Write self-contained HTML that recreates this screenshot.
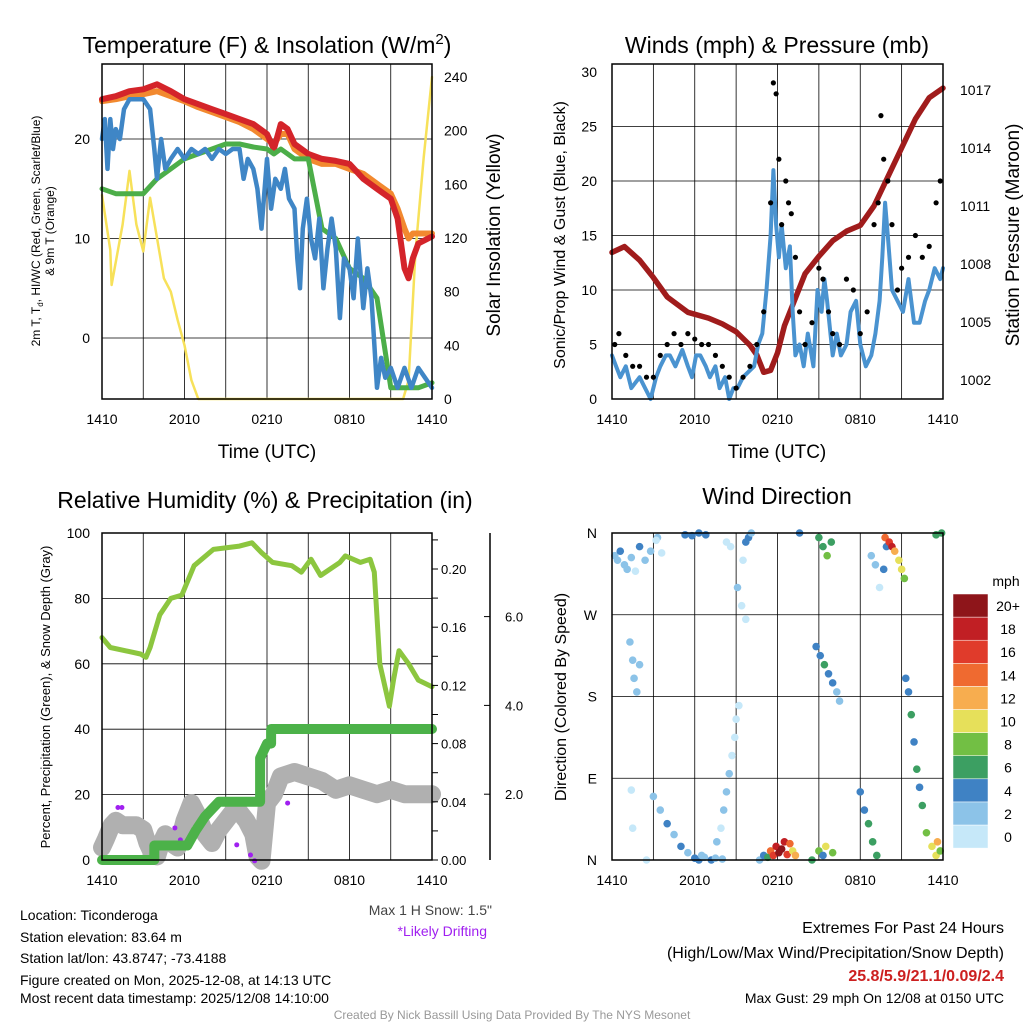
<!DOCTYPE html>
<html><head><meta charset="utf-8"><style>
html,body{margin:0;padding:0;background:#fff;}
svg{display:block;font-family:"Liberation Sans",sans-serif;}
</style></head><body>
<svg id="c" width="1024" height="1024" viewBox="0 0 1024 1024" xmlns="http://www.w3.org/2000/svg">
<rect width="1024" height="1024" fill="#fff"/>
<g id="grid"></g>
<g id="marks"></g>
<g id="axes" fill="#000" stroke="none"></g>
<text x="267" y="53" font-size="23" text-anchor="middle">Temperature (F) &amp; Insolation (W/m<tspan dy="-9" font-size="15">2</tspan><tspan dy="9">)</tspan></text>
<text x="777" y="53" font-size="23" text-anchor="middle">Winds (mph) &amp; Pressure (mb)</text>
<text x="265" y="508" font-size="23" text-anchor="middle">Relative Humidity (%) &amp; Precipitation (in)</text>
<text x="777" y="504" font-size="23" text-anchor="middle">Wind Direction</text>
<text x="267" y="458" font-size="19" text-anchor="middle">Time (UTC)</text>
<text x="777" y="458" font-size="19" text-anchor="middle">Time (UTC)</text>
<text transform="translate(40,231) rotate(-90)" font-size="12" text-anchor="middle">2m T, T<tspan font-size="8" dy="3">d</tspan><tspan dy="-3">, HI/WC (Red, Green, Scarlet/Blue)</tspan></text>
<text transform="translate(54,231) rotate(-90)" font-size="12" text-anchor="middle">&amp; 9m T (Orange)</text>
<text transform="translate(500,235) rotate(-90)" font-size="19" text-anchor="middle">Solar Insolation (Yellow)</text>
<text transform="translate(565,235) rotate(-90)" font-size="16" text-anchor="middle">Sonic/Prop Wind &amp; Gust (Blue, Black)</text>
<text transform="translate(1019,235) rotate(-90)" font-size="19" text-anchor="middle">Station Pressure (Maroon)</text>
<text transform="translate(50,697) rotate(-90)" font-size="13" text-anchor="middle">Percent, Precipitation (Green), &amp; Snow Depth (Gray)</text>
<text transform="translate(566,697) rotate(-90)" font-size="16" text-anchor="middle">Direction (Colored By Speed)</text>
<text x="492" y="915" font-size="14" text-anchor="end" fill="#444">Max 1 H Snow: 1.5"</text>
<text x="487" y="936" font-size="14" text-anchor="end" fill="#a020f0">*Likely Drifting</text>
<g font-size="14">
<text x="20" y="920">Location: Ticonderoga</text>
<text x="20" y="942">Station elevation: 83.64 m</text>
<text x="20" y="963">Station lat/lon: 43.8747; -73.4188</text>
<text x="20" y="985">Figure created on Mon, 2025-12-08, at 14:13 UTC</text>
<text x="20" y="1003">Most recent data timestamp: 2025/12/08 14:10:00</text>
</g>
<g font-size="16" text-anchor="end">
<text x="1004" y="933">Extremes For Past 24 Hours</text>
<text x="1004" y="958">(High/Low/Max Wind/Precipitation/Snow Depth)</text>
<text x="1004" y="981" font-weight="bold" fill="#cc2020">25.8/5.9/21.1/0.09/2.4</text>
<text x="1004" y="1003" font-size="14">Max Gust: 29 mph On 12/08 at 0150 UTC</text>
</g>
<text x="512" y="1019" font-size="12" text-anchor="middle" fill="#999">Created By Nick Bassill Using Data Provided By The NYS Mesonet</text>
<text x="1006" y="586" font-size="14" text-anchor="middle">mph</text>
</svg>
<script>
// ---- Temperature panel data ----
const tHours=[0,1,2,3,4,5,6,7,8,9,10,11,12,12.5,13,13.5,14,15,16,17,18,19,20,21,21.5,22,22.3,22.6,23,24];
const tRed=[24,24.3,24.8,25,25.5,24.8,24,23.5,23,22.5,22,21.5,20.5,19,21.5,21,19.5,18.5,18,17.8,17.5,16,15,14,12,7,6,8,9.5,10.2];
const tOrange=[23.8,24,24.3,24.5,24.8,24.3,23.8,23.2,22.7,22.2,21.7,21,20,19.5,20.5,20.5,19,18,17.5,17.5,17,16.5,15.5,14.5,13,11,10,10.5,10.5,10.5];
const tGreen=[15,14.5,14.5,14.5,16,17,18,18.5,19,19.5,19.5,19.2,19,18.5,19,18.5,18,18,11,10,7,6,4,-5,-5,-5,-5,-5,-5,-4.5];
const bHours=[0,0.2,0.4,0.6,0.8,1,1.3,1.6,2,3,3.5,3.8,4,4.3,4.6,5,5.5,6,6.5,7,7.5,8,8.5,9,9.5,10,10.3,10.6,11,11.3,11.6,12,12.3,12.6,13,13.3,13.6,14,14.2,14.4,14.6,14.9,15.2,15.5,15.8,16.1,16.4,16.7,17,17.3,17.6,18,18.3,18.6,19,19.3,19.6,20,20.3,20.6,21,21.5,22,22.5,23,23.5,24];
const tBlue=[20,22,17,22,19,21,20,23,24,24,23,19,16,20,17,18,19,18,19,18.5,19,18,19,18.5,19,19,16,18,17,15,11,18,13,16,15,17,14,13,8,5,11,14,10,8,12,5,9,12,9,2,8,7,4,10,3,7,4,-5,-2,-4,-3,-5,-3,-5,-3,-4,-5];
const sHours=[0,0.6,0.7,1.5,2,2.5,3,3.5,4,4.5,5,5.5,6,6.5,7,21.9,22.3,22.8,23.4,24];
const solar=[152,111,85,130,170,130,110,150,120,90,80,59,40,14,0,0,14,110,180,240];
const tempTicks=[0,10,20];
const solarTicks=[0,40,80,120,160,200,240];
const timeLabels=["1410","2010","0210","0810","1410"];
// ---- Wind panel data ----
const wHours=[0,0.3,0.6,1,1.4,2,2.4,2.8,3.2,3.5,3.9,4.2,4.6,5.1,5.5,5.8,6.1,6.4,6.8,7.1,7.5,7.8,8.2,8.5,8.8,9.1,9.5,10.3,10.6,10.9,11.2,11.5,11.7,11.9,12.1,12.3,12.6,12.9,13.1,13.3,13.6,13.9,14.2,14.6,14.9,15.2,15.4,15.6,16,16.3,16.6,17.0,17.3,17.7,18,18.4,18.8,19.1,19.4,19.6,19.8,20.0,20.3,20.7,21.1,21.5,21.9,22.3,22.7,23.0,23.4,23.8,24];
const wSpeed=[4,3,2,3,1,2,1,0,2,3,4,4,3,4.5,3,2,4,4,3,2,3,1,2,0,1,1,2,3,5,6,10,15,21,16,13,16,12,14,8,4,5,3,6,3,10,8,11,9,4,6,4,5,8,9,5,3,4,6,9,13,18,15,10,9,8,11,7,7,9,10,12,11,12];
const gHours=[0.2,0.5,1,1.5,2,2.5,3,3.5,4,4.5,5,5.5,6,6.5,7,7.5,8,8.5,9,9.5,10,10.5,11,11.5,11.7,11.9,12.1,12.3,12.6,12.8,13,13.3,13.6,14,14.5,15,15.3,15.7,16,16.5,17,17.5,18,18.5,19,19.3,19.5,19.7,20,20.3,20.7,21,21.5,22,22.5,23,23.5,23.8];
const gust=[5,6,4,3,3,2,2,4,5,6,5,6,5.5,5,5,4,3,2,1,2,3,5,8,18,29,28,22,16,20,18,17,13,8,5,7,12,11,8,6,5,11,10,6,8,16,18,26,22,20,16,10,12,13,15,13,14,18,20];
const pHours=[0,0.9,2,3,4,5.5,7,8,9,10,10.5,11,11.5,12,12.5,13,14,15,16,17,18,19,20,21,22,23,24];
const pres=[1008.6,1008.9,1008.2,1007.3,1006.3,1005.5,1005.2,1004.9,1004.5,1003.8,1003.3,1002.4,1002.5,1003.4,1004.8,1005.7,1007.5,1008.4,1009.2,1009.7,1010,1011,1012.5,1014,1015.5,1016.6,1017.1];
const windTicks=[0,5,10,15,20,25,30];
const presTicks=[1002,1005,1008,1011,1014,1017];
// ---- Humidity panel data ----
const rhHours=[0,0.6,2.8,3.2,3.5,4.2,5,5.8,6.7,8.1,10,10.9,11.6,12.4,13.8,14.5,15.2,15.9,17.3,17.7,18.8,19.5,19.8,20.2,20.9,21.2,21.6,22.3,23,24];
const rh=[68,65,63,62,65,75,80,81,90,95,96,97,94,91,90,88,92,87,91,93,91,92,88,60,47,55,64,60,55,53];
const prHours=[0,3.8,3.8,6.2,6.8,7.5,8,8.5,9,11.5,11.5,12,12.3,12.3,24];
const precip=[0,0,0.01,0.01,0.02,0.03,0.035,0.04,0.04,0.04,0.07,0.08,0.08,0.09,0.09];
const snHours=[0,0.3,0.7,1,1.5,2,2.5,3,3.3,3.6,4,4.3,4.6,5,5.5,6,6.5,7,7.5,8,8.5,9,9.5,10,10.5,11,11.3,11.6,12,12.5,13,14,15,16,17,18,19,20,21,22,23,24];
const snow=[0.8,1.0,1.3,1.4,1.3,1.3,1.3,1.2,0.9,0.7,0.6,0.9,1.1,0.9,0.8,1.4,1.8,1.5,1.1,0.9,1.2,1.4,1.6,1.6,1.4,1.1,0.6,0.5,1.8,2.0,2.4,2.5,2.4,2.3,2.1,2.2,2.1,2.0,2.1,2.0,2.0,2.0];
const driftHours=[1.16,1.45,5.3,5.7,9.8,10.8,11.1,13.5];
const driftSnow=[1.7,1.7,1.24,0.97,0.86,0.63,0.5,1.8];
const rhTicks=[0,20,40,60,80,100];
const prTicks=[0,0.04,0.08,0.12,0.16,0.20];
const snowTicks=[2,4,6];
// ---- Wind direction data ----
const dHours=[0.2,0.4,0.6,0.9,1.1,1.4,1.7,2.0,2.4,2.8,3.3,3.6,1.3,1.5,1.6,1.8,2.0,1.4,1.5,3.0,3.5,4.0,4.5,5.0,5.5,6.0,6.3,6.7,2.5,3.2,5.3,5.8,6.3,6.8,6.5,7.2,7.5,8,7.6,7.9,8.1,8.3,8.5,8.7,8.9,9.0,9.2,8.3,8.6,9.1,9.4,9.7,9.5,9.9,10.1,9.7,10.7,11,11.3,11.5,11.7,11.9,12.1,12.3,12.5,12.7,12.9,13.1,13.3,13.6,14.5,15,15.3,15,15.3,15.6,15.9,14.8,15.1,15.4,15.7,16,16.3,16.5,15.5,16,18,18.3,18.6,18.9,19.2,18.8,19.1,19.4,19.7,19.9,19.8,20.1,20.3,20.5,20.8,21.0,21.2,21.3,21.5,21.7,21.9,22.1,22.3,22.5,22.8,23.2,23.5,23.8,23.6,23.5,23.9];
const dDir=[335,330,340,325,320,333,318,345,330,340,355,338,240,220,200,185,215,77,35,70,55,40,28,15,8,2,0,3,0,352,358,357,360,358,5,0,2,1,20,35,55,75,95,115,135,155,170,350,345,300,280,265,330,355,360,350,0,5,3,10,5,15,8,12,20,6,18,10,5,360,0,10,5,355,345,335,350,235,225,215,205,195,185,175,15,8,75,55,40,20,5,335,325,300,320,345,355,350,345,340,330,320,310,200,185,160,130,100,80,60,30,15,5,10,20,358,360];
const dSpd=[3,2,4,2,3,2,1,4,3,2,2,1,2,2,3,3,2,1,1,2,3,4,3,4,3,4,4,3,1,1,4,4,5,4,2,4,3,2,2,1,2,3,3,1,1,1,1,1,1,2,1,1,1,4,3,5,3,4,6,14,16,18,20,21,18,16,14,10,12,5,6,8,4,7,6,8,6,4,5,6,5,4,3,2,10,8,5,4,6,7,7,3,2,1,4,5,14,16,18,12,10,10,8,4,5,6,4,6,5,7,8,10,11,9,12,6,7];
const dirTicks=["N","E","S","W","N"];
const cbLabels=["0","2","4","6","8","10","12","14","16","18","20+"];
const cbColors=["#c6e8f9","#8cc3e8","#3f82c4","#3c9f62","#72bf44","#e6e05a","#f7ad4f","#ef6a30","#e03b2b","#c11f24","#8e151a"];

const NS="http://www.w3.org/2000/svg";
const G=document.getElementById('grid'),M=document.getElementById('marks'),A=document.getElementById('axes');
function mk(tag,at,par){const e=document.createElementNS(NS,tag);for(const k in at)e.setAttribute(k,at[k]);par.appendChild(e);return e;}
function txt(x,y,s,sz,anchor,par){const e=mk('text',{x:x,y:y,'font-size':sz,'text-anchor':anchor},par);e.textContent=s;return e;}

const x1=h=>102+h*330/24, yT=v=>338-v*9.95, yS=w=>399-w*322/240;
const x2=h=>612+h*331/24, yW=v=>399-v*327/30, yP=p=>380-(p-1002)*19.33;
const yR=v=>860-v*3.27, yPr=v=>860-v*1455, ySn=v=>883-v*44.4;
const yD=d=>860-d*327/360;

function frame(x0,y0,x1_,y1_,name){const r=mk('rect',{x:x0,y:y0,width:x1_-x0,height:y1_-y0,fill:'none',stroke:'#000','stroke-width':1.5},A);}
function vgrid(xf,y0,y1_){for(let h=3;h<24;h+=3){const l=mk('line',{x1:xf(h),x2:xf(h),y1:y0,y2:y1_,stroke:'#000','stroke-width':0.8},G);}}
function hline(x0,x1_,y){const l=mk('line',{x1:x0,x2:x1_,y1:y,y2:y,stroke:'#000','stroke-width':0.8},G);}
function xlabels(xf,y){timeLabels.forEach((s,i)=>{const t=txt(xf(i*6),y,s,14,'middle',A);});}
function path(xs,ys,xf,yf,color,w,name){let d='';xs.forEach((h,i)=>{d+=(i?'L':'M')+xf(h).toFixed(1)+','+yf(ys[i]).toFixed(1);});const p=mk('path',{d:d,fill:'none',stroke:color,'stroke-width':w,'stroke-linejoin':'round','stroke-linecap':'round'},M);return p;}

// Panel 1
vgrid(x1,64,399);
tempTicks.forEach(v=>{hline(102,432,yT(v));const t=txt(90,yT(v)+5,String(v),14,'end',A);});
solarTicks.forEach(v=>{const t=txt(444,yS(v)+5,String(v),14,'start',A);});
path(sHours,solar,x1,yS,'#f7e15a',2.5,'solar-line');
path(tHours,tOrange,x1,yT,'#f2892f',6,'temp-9m-line');
path(tHours,tRed,x1,yT,'#d4242a',6,'temp-2m-line');
path(tHours,tGreen,x1,yT,'#4cae49',5,'dewpoint-line');
path(bHours,tBlue,x1,yT,'#3f86c6',4.5,'windchill-line');
frame(102,64,432,399,'temp-plot-area');
xlabels(x1,424);
// Panel 2
vgrid(x2,64,399);
windTicks.forEach(v=>{if(v>0&&v<30)hline(612,943,yW(v));const t=txt(597,yW(v)+5,String(v),14,'end',A);});
presTicks.forEach(v=>{const t=txt(960,yP(v)+5,String(v),14,'start',A);});
path(pHours,pres,x2,yP,'#a01c1c',5.5,'pressure-line');
path(wHours,wSpeed,x2,yW,'#4a93d0',4,'wind-speed-line');
gHours.forEach((h,i)=>{const c=mk('circle',{cx:x2(h),cy:yW(gust[i]),r:2.6,fill:'#000'},M);});
frame(612,64,943,399,'wind-plot-area');
xlabels(x2,424);
// Panel 3
vgrid(x1,533,860);
rhTicks.forEach(v=>{if(v>0&&v<100)hline(102,432,yR(v));const t=txt(90,yR(v)+5,String(v),14,'end',A);});
[0,0.02,0.04,0.06,0.08,0.10,0.12,0.14,0.16,0.18,0.20,0.22].forEach(v=>{mk('line',{x1:432,x2:438,y1:yPr(v),y2:yPr(v),stroke:'#000'},A);});
prTicks.forEach(v=>{const t=txt(441,yPr(v)+5,v.toFixed(2),13,'start',A);});
mk('line',{x1:490,x2:490,y1:533,y2:860,stroke:'#000','stroke-width':1.5},A);
snowTicks.forEach(v=>{mk('line',{x1:484,x2:490,y1:ySn(v),y2:ySn(v),stroke:'#000'},A);const t=txt(505,ySn(v)+5,v.toFixed(1),13,'start',A);});
path(snHours,snow,x1,ySn,'#b0b0b0',18,'snow-depth-line');
driftHours.forEach((h,i)=>{const c=mk('circle',{cx:x1(h),cy:ySn(driftSnow[i]),r:2.5,fill:'#a020f0'},M);});
path(prHours,precip,x1,yPr,'#4cb249',10,'precip-line');
path(rhHours,rh,x1,yR,'#8cc63f',5,'humidity-line');
frame(102,533,432,860,'humidity-plot-area');
xlabels(x1,885);
// Panel 4
vgrid(x2,533,860);
dirTicks.forEach((s,i)=>{const y=yD(i*90);if(i>0&&i<4)hline(612,943,y);const t=txt(597,y+5,s,14,'end',A);});
function spColor(s){return cbColors[Math.min(10,Math.floor(s/2))];}
dHours.forEach((h,i)=>{const c=mk('circle',{cx:x2(h),cy:yD(dDir[i]),r:3.8,fill:spColor(dSpd[i])},M);});
frame(612,533,943,860,'direction-plot-area');
xlabels(x2,885);
cbColors.forEach((col,i)=>{const y=825-i*23.1;const r=mk('rect',{x:953,y:y,width:35,height:23.1,fill:col,stroke:'#fff','stroke-width':0.5},A);const t=txt(1008,y+17,cbLabels[i],14,'middle',A);});
</script>
</body></html>
